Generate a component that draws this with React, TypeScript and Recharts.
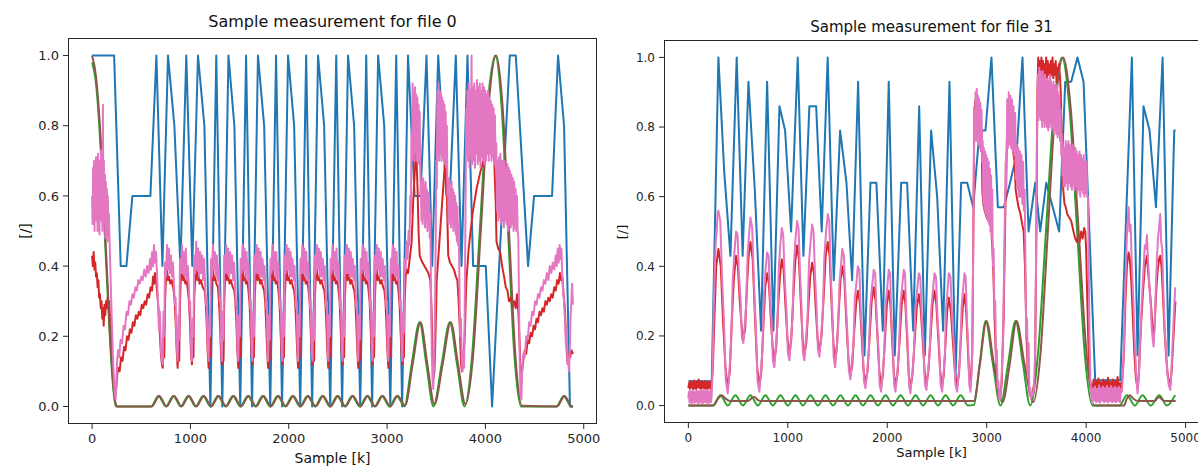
import React from 'react';
import { LineChart, Line, XAxis, YAxis } from 'recharts';

type P = [number, number];

const xTicks = [0, 1000, 2000, 3000, 4000, 5000];
const yTicks = [0, 0.2, 0.4, 0.6, 0.8, 1.0];
const titles = ['Sample measurement for file 0', 'Sample measurement for file 31'];
const xLabel = 'Sample [k]';
const yLabel = '[/]';

// ---------------- file 0 ----------------
const blueL: P[] = [[0,1],[224,1],[291,0.4],[349,0.4],[410,0.6],[593,0.6],[654,1],[715,0.4],[772,1],[837,0.8],[898,0.4],[958,1],[1019,0.4],[1077,1],[1142,0.8],[1203,0],[1263,1],[1324,0],[1387,1],[1447,0.8],[1507,0],[1566,1],[1627,0],[1687,1],[1750,0.8],[1812,0],[1871,1],[1932,0],[1993,1],[2055,0.8],[2117,0],[2177,1],[2238,0],[2298,1],[2360,0.8],[2422,0],[2483,1],[2543,0],[2603,1],[2665,0.8],[2727,0],[2788,1],[2848,0],[2909,1],[2971,0.8],[3033,0],[3093,1],[3153,0],[3213,1],[3280,0.6],[3340,0.6],[3401,1],[3459,0.4],[3520,1],[3604,0.6],[3638,0.6],[3699,1],[3757,0.4],[3818,1],[3875,0.4],[4004,0.4],[4068,0],[4248,1],[4309,1],[4434,0.4],[4495,0.6],[4678,0.6],[4739,1],[4800,0.8],[4860,0],[4890,0]];

const greenL: P[] = [[0,0.98],[40,0.92],[88,0.73],[129,0.49],[180,0.2],[210,0.07],[235,0.008],[250,0],[600,0],[675,0.03],[750,0],[826,0.03],[902,0],[977,0.03],[1053,0],[1129,0.03],[1205,0],[1280,0.03],[1356,0],[1432,0.03],[1508,0],[1584,0.03],[1660,0],[1735,0.03],[1811,0],[1887,0.03],[1963,0],[2038,0.03],[2114,0],[2190,0.03],[2266,0],[2342,0.03],[2418,0],[2493,0.03],[2569,0],[2645,0.03],[2721,0],[2796,0.03],[2872,0],[2948,0.03],[3024,0],[3100,0.03],[3176,0],[3250,0.12],[3330,0.24],[3400,0.12],[3472,0],[3555,0.12],[3638,0.24],[3712,0.12],[3787,0],[3865,0.146],[3943,0.5],[4021,0.854],[4100,1],[4165,0.854],[4230,0.5],[4295,0.146],[4362,0],[4722,0],[4797,0.03],[4872,0],[4890,0]];

const brownL: P[] = [[0,1],[40,0.94],[88,0.76],[129,0.52],[180,0.22],[210,0.08],[238,0.01],[255,0],[608,0],[683,0.03],[758,0],[834,0.03],[910,0],[985,0.03],[1061,0],[1137,0.03],[1213,0],[1288,0.03],[1364,0],[1440,0.03],[1516,0],[1592,0.03],[1668,0],[1743,0.03],[1819,0],[1895,0.03],[1971,0],[2046,0.03],[2122,0],[2198,0.03],[2274,0],[2350,0.03],[2426,0],[2501,0.03],[2577,0],[2653,0.03],[2729,0],[2804,0.03],[2880,0],[2956,0.03],[3032,0],[3108,0.03],[3184,0.003],[3260,0.12],[3340,0.24],[3410,0.12],[3482,0.006],[3565,0.12],[3648,0.24],[3722,0.12],[3797,0.006],[3875,0.146],[3953,0.5],[4031,0.854],[4110,1],[4175,0.854],[4240,0.5],[4305,0.146],[4372,0.002],[4730,0],[4805,0.03],[4880,0],[4890,0]];

const redL: P[] = [[0,0.43],[8,0.4],[16,0.44],[24,0.39],[32,0.41],[40,0.37],[48,0.38],[56,0.34],[64,0.36],[72,0.31],[80,0.32],[88,0.28],[96,0.3],[104,0.25],[112,0.28],[118,0.23],[126,0.29],[134,0.26],[142,0.3],[150,0.28],[158,0.31],[166,0.29],[174,0.3],[190,0.22],[210,0.1],[230,0.03],[245,0.05],[255,0.09],[264,0.11],[280,0.1],[295,0.14],[310,0.13],[325,0.17],[340,0.16],[355,0.2],[370,0.19],[385,0.22],[400,0.21],[415,0.24],[430,0.23],[445,0.26],[460,0.25],[475,0.27],[490,0.26],[505,0.29],[520,0.28],[535,0.3],[550,0.29],[565,0.32],[580,0.31],[595,0.34],[610,0.33],[620,0.37],[630,0.35],[640,0.38],[650,0.36],[660,0.33],[675,0.28],[690,0.2],[700,0.15],[710,0.12],[718,0.11],
[726,0.17],[734,0.14],[742,0.3],[752,0.37],[762,0.39],[772,0.36],[782,0.37],[796,0.35],[810,0.36],[830,0.33],[840,0.3],[850,0.24],[860,0.16],[870,0.11],
[878,0.17],[886,0.13],[894,0.3],[904,0.38],[914,0.39],[924,0.36],[934,0.37],[948,0.35],[962,0.36],[975,0.33],[985,0.3],[995,0.24],[1005,0.16],[1015,0.12],
[1023,0.16],[1031,0.14],[1039,0.31],[1049,0.37],[1059,0.4],[1069,0.36],[1079,0.38],[1093,0.35],[1107,0.36],[1125,0.34],[1145,0.33],[1155,0.3],[1165,0.24],[1175,0.16],[1185,0.11],
[1193,0.17],[1201,0.14],[1209,0.3],[1219,0.37],[1229,0.39],[1239,0.36],[1249,0.37],[1263,0.35],[1280,0.34],[1290,0.3],[1300,0.24],[1310,0.16],[1320,0.12],
[1328,0.17],[1336,0.13],[1344,0.31],[1354,0.38],[1364,0.39],[1374,0.36],[1384,0.37],[1398,0.35],[1412,0.36],[1430,0.34],[1447,0.33],[1457,0.3],[1467,0.24],[1477,0.16],[1487,0.11],
[1495,0.17],[1503,0.14],[1511,0.3],[1521,0.37],[1531,0.39],[1541,0.36],[1551,0.37],[1565,0.35],[1579,0.36],[1590,0.33],[1600,0.3],[1610,0.24],[1620,0.16],[1630,0.12],
[1638,0.16],[1646,0.14],[1654,0.31],[1664,0.37],[1674,0.4],[1684,0.36],[1694,0.38],[1708,0.35],[1722,0.36],[1738,0.34],[1750,0.33],[1760,0.3],[1770,0.24],[1780,0.16],[1790,0.11],
[1798,0.17],[1806,0.13],[1814,0.3],[1824,0.38],[1834,0.39],[1844,0.36],[1854,0.37],[1868,0.35],[1882,0.36],[1895,0.33],[1905,0.3],[1915,0.24],[1925,0.16],[1935,0.12],
[1943,0.17],[1951,0.14],[1959,0.31],[1969,0.37],[1979,0.39],[1989,0.36],[1999,0.37],[2013,0.35],[2027,0.36],[2043,0.34],[2055,0.33],[2065,0.3],[2075,0.24],[2085,0.16],[2095,0.11],
[2103,0.16],[2111,0.14],[2119,0.3],[2129,0.37],[2139,0.4],[2149,0.36],[2159,0.37],[2173,0.35],[2187,0.36],[2202,0.33],[2212,0.3],[2222,0.24],[2232,0.16],[2242,0.12],
[2250,0.17],[2258,0.13],[2266,0.31],[2276,0.38],[2286,0.39],[2296,0.36],[2306,0.37],[2320,0.35],[2334,0.36],[2350,0.34],[2362,0.33],[2372,0.3],[2382,0.24],[2392,0.16],[2402,0.11],
[2410,0.17],[2418,0.14],[2426,0.3],[2436,0.37],[2446,0.39],[2456,0.36],[2466,0.37],[2480,0.35],[2494,0.36],[2507,0.33],[2517,0.3],[2527,0.24],[2537,0.16],[2547,0.12],
[2555,0.16],[2563,0.14],[2571,0.31],[2581,0.37],[2591,0.4],[2601,0.36],[2611,0.38],[2625,0.35],[2639,0.36],[2655,0.34],[2667,0.33],[2677,0.3],[2687,0.24],[2697,0.16],[2707,0.11],
[2715,0.17],[2723,0.13],[2731,0.3],[2741,0.38],[2751,0.39],[2761,0.36],[2771,0.37],[2785,0.35],[2799,0.36],[2812,0.33],[2822,0.3],[2832,0.24],[2842,0.16],[2852,0.12],
[2860,0.17],[2868,0.14],[2876,0.31],[2886,0.37],[2896,0.39],[2906,0.36],[2916,0.37],[2930,0.35],[2944,0.36],[2960,0.34],[2973,0.33],[2983,0.3],[2993,0.24],[3003,0.16],[3013,0.11],
[3021,0.16],[3029,0.14],[3037,0.3],[3047,0.37],[3057,0.4],[3067,0.36],[3077,0.37],[3091,0.35],[3105,0.36],[3115,0.33],[3125,0.3],[3135,0.24],[3145,0.16],[3155,0.12],
[3163,0.17],[3171,0.14],[3179,0.3],[3189,0.37],[3199,0.39],[3213,0.38],[3230,0.42],[3250,0.47],[3265,0.58],[3280,0.66],[3292,0.72],[3300,0.7],[3310,0.62],[3320,0.5],[3332,0.43],[3345,0.42],[3360,0.41],[3380,0.4],[3400,0.39],[3420,0.38],[3440,0.36],[3452,0.28],[3462,0.15],[3472,0.08],[3482,0.1],
[3492,0.2],[3505,0.36],[3520,0.42],[3540,0.5],[3560,0.58],[3580,0.66],[3594,0.71],[3604,0.68],[3612,0.55],[3622,0.43],[3640,0.41],[3660,0.4],[3680,0.39],[3700,0.37],[3715,0.36],[3728,0.3],[3740,0.22],[3752,0.12],[3762,0.1],[3775,0.13],[3790,0.2],
[3805,0.35],[3830,0.45],[3870,0.55],[3910,0.62],[3950,0.67],[3990,0.71],[4020,0.74],[4045,0.76],[4070,0.74],[4090,0.7],[4105,0.58],[4113,0.47],[4130,0.45],[4150,0.44],[4170,0.4],[4190,0.37],[4207,0.34],[4225,0.33],[4240,0.3],[4258,0.31],[4275,0.28],[4292,0.3],[4309,0.28],[4322,0.32],[4335,0.27],[4348,0.18],[4360,0.08],[4372,0.1],
[4385,0.13],[4400,0.16],[4415,0.15],[4430,0.19],[4445,0.18],[4460,0.21],[4475,0.2],[4490,0.23],[4505,0.22],[4520,0.25],[4535,0.24],[4550,0.27],[4565,0.26],[4580,0.28],[4595,0.27],[4610,0.3],[4625,0.29],[4640,0.31],[4655,0.3],[4670,0.32],[4685,0.31],[4700,0.34],[4715,0.33],[4730,0.36],[4745,0.35],[4758,0.38],[4770,0.36],[4782,0.37],[4795,0.32],[4808,0.28],[4820,0.2],[4832,0.13],[4842,0.12],[4852,0.15],[4862,0.14],[4875,0.16],[4890,0.15]];

const pinkL: P[] = [[0,0.6],[5,0.52],[10,0.68],[15,0.55],[20,0.7],[25,0.5],[30,0.66],[35,0.54],[40,0.71],[45,0.53],[50,0.69],[55,0.5],[60,0.72],[65,0.55],[70,0.67],[75,0.49],[80,0.7],[85,0.53],[90,0.73],[95,0.56],[100,0.68],[105,0.5],[110,0.86],[115,0.52],[120,0.7],[125,0.55],[130,0.66],[135,0.48],[140,0.64],[145,0.52],[150,0.62],[155,0.47],[160,0.6],[165,0.5],[170,0.55],[185,0.4],[200,0.25],[215,0.12],[230,0.04],[240,0.02],[248,0.08],[255,0.13],[264,0.16],[275,0.14],[290,0.19],[305,0.18],[320,0.23],[335,0.22],[350,0.27],[365,0.26],[380,0.3],[395,0.29],[410,0.32],[425,0.31],[440,0.34],[455,0.33],[470,0.36],[485,0.35],[500,0.37],[515,0.36],[530,0.39],[545,0.37],[560,0.4],[575,0.38],[590,0.42],[600,0.39],[610,0.44],[620,0.4],[630,0.46],[640,0.41],[650,0.44],[660,0.38],[670,0.3],[680,0.22],[690,0.27],[700,0.16],[710,0.13],[718,0.12],
[726,0.27],[734,0.2],[742,0.41],[752,0.37],[762,0.46],[772,0.39],[782,0.45],[792,0.38],[802,0.43],[812,0.37],[822,0.41],[832,0.35],[842,0.29],[850,0.31],[856,0.2],[864,0.16],[870,0.13],
[878,0.26],[886,0.19],[894,0.42],[904,0.38],[914,0.46],[924,0.38],[934,0.44],[944,0.37],[954,0.45],[964,0.36],[974,0.4],[984,0.34],[992,0.28],[998,0.3],[1004,0.19],[1010,0.15],[1015,0.13],
[1023,0.25],[1031,0.2],[1039,0.43],[1049,0.38],[1059,0.47],[1069,0.39],[1079,0.45],[1089,0.37],[1099,0.44],[1109,0.38],[1119,0.43],[1129,0.36],[1139,0.42],[1149,0.35],[1157,0.29],[1165,0.31],[1172,0.2],[1179,0.16],[1185,0.13],
[1193,0.26],[1201,0.2],[1209,0.42],[1219,0.37],[1229,0.46],[1239,0.39],[1249,0.44],[1259,0.37],[1269,0.43],[1279,0.36],[1289,0.4],[1297,0.3],[1304,0.31],[1310,0.2],[1315,0.16],[1320,0.13],
[1328,0.27],[1336,0.19],[1344,0.43],[1354,0.38],[1364,0.46],[1374,0.38],[1384,0.45],[1394,0.37],[1404,0.44],[1414,0.38],[1424,0.43],[1434,0.36],[1444,0.41],[1454,0.35],[1462,0.29],[1469,0.3],[1475,0.2],[1481,0.16],[1487,0.13],
[1495,0.26],[1503,0.2],[1511,0.42],[1521,0.38],[1531,0.46],[1541,0.39],[1551,0.45],[1561,0.37],[1571,0.44],[1581,0.36],[1591,0.41],[1600,0.34],[1608,0.28],[1614,0.3],[1620,0.19],[1625,0.15],[1630,0.13],
[1638,0.27],[1646,0.2],[1654,0.43],[1664,0.38],[1674,0.46],[1684,0.38],[1694,0.45],[1704,0.37],[1714,0.44],[1724,0.37],[1734,0.42],[1744,0.36],[1754,0.4],[1763,0.33],[1770,0.28],[1776,0.3],[1782,0.19],[1786,0.15],[1790,0.13],
[1798,0.26],[1806,0.19],[1814,0.42],[1824,0.38],[1834,0.46],[1844,0.39],[1854,0.44],[1864,0.37],[1874,0.44],[1884,0.36],[1894,0.41],[1904,0.34],[1912,0.28],[1918,0.3],[1924,0.2],[1930,0.15],[1935,0.13],
[1943,0.27],[1951,0.2],[1959,0.43],[1969,0.38],[1979,0.46],[1989,0.39],[1999,0.45],[2009,0.37],[2019,0.44],[2029,0.37],[2039,0.42],[2049,0.36],[2059,0.4],[2068,0.33],[2075,0.28],[2081,0.3],[2087,0.19],[2091,0.15],[2095,0.13],
[2103,0.26],[2111,0.2],[2119,0.42],[2129,0.38],[2139,0.46],[2149,0.38],[2159,0.45],[2169,0.37],[2179,0.44],[2189,0.36],[2199,0.41],[2209,0.34],[2217,0.28],[2224,0.3],[2230,0.19],[2236,0.15],[2242,0.13],
[2250,0.27],[2258,0.19],[2266,0.43],[2276,0.38],[2286,0.46],[2296,0.39],[2306,0.45],[2316,0.37],[2326,0.44],[2336,0.37],[2346,0.42],[2356,0.36],[2366,0.4],[2375,0.33],[2382,0.28],[2388,0.3],[2394,0.19],[2398,0.15],[2402,0.13],
[2410,0.26],[2418,0.2],[2426,0.42],[2436,0.38],[2446,0.46],[2456,0.39],[2466,0.44],[2476,0.37],[2486,0.45],[2496,0.36],[2506,0.41],[2516,0.34],[2524,0.28],[2530,0.3],[2536,0.2],[2542,0.15],[2547,0.13],
[2555,0.27],[2563,0.2],[2571,0.43],[2581,0.38],[2591,0.46],[2601,0.38],[2611,0.45],[2621,0.37],[2631,0.44],[2641,0.37],[2651,0.42],[2661,0.36],[2671,0.4],[2680,0.33],[2687,0.28],[2693,0.3],[2699,0.19],[2703,0.15],[2707,0.13],
[2715,0.26],[2723,0.19],[2731,0.42],[2741,0.38],[2751,0.46],[2761,0.39],[2771,0.45],[2781,0.37],[2791,0.44],[2801,0.36],[2811,0.41],[2821,0.34],[2829,0.28],[2835,0.3],[2841,0.2],[2847,0.15],[2852,0.13],
[2860,0.27],[2868,0.2],[2876,0.43],[2886,0.38],[2896,0.46],[2906,0.39],[2916,0.45],[2926,0.37],[2936,0.44],[2946,0.37],[2956,0.42],[2966,0.36],[2976,0.4],[2985,0.33],[2992,0.28],[2998,0.3],[3004,0.19],[3009,0.15],[3013,0.13],
[3021,0.26],[3029,0.2],[3037,0.42],[3047,0.38],[3057,0.46],[3067,0.38],[3077,0.45],[3087,0.37],[3097,0.44],[3107,0.36],[3117,0.4],[3126,0.33],[3134,0.28],[3140,0.3],[3146,0.19],[3151,0.15],[3155,0.13],
[3163,0.27],[3171,0.21],[3179,0.42],[3189,0.39],[3199,0.47],[3209,0.42],[3219,0.5],[3228,0.46],[3236,0.6],[3242,0.55],[3248,0.78],[3254,0.7],[3260,0.92],[3266,0.72],[3272,0.9],[3278,0.7],[3284,0.91],[3290,0.73],[3296,0.89],[3302,0.7],[3308,0.88],[3314,0.71],[3320,0.86],[3326,0.69],[3332,0.84],[3338,0.66],[3344,0.62],[3350,0.53],[3356,0.64],[3362,0.52],[3368,0.65],[3374,0.54],[3380,0.63],[3386,0.51],[3392,0.64],[3398,0.53],[3404,0.62],[3410,0.5],[3416,0.61],[3422,0.52],[3428,0.6],[3434,0.48],[3440,0.55],[3448,0.3],[3455,0.15],[3462,0.08],[3470,0.05],[3478,0.12],
[3486,0.25],[3494,0.45],[3500,0.7],[3506,0.62],[3512,0.9],[3518,0.72],[3524,0.92],[3530,0.7],[3536,0.9],[3542,0.72],[3548,0.89],[3554,0.7],[3560,0.88],[3566,0.71],[3572,0.87],[3578,0.7],[3584,0.86],[3590,0.69],[3596,0.84],[3602,0.68],[3608,0.8],[3614,0.6],[3620,0.64],[3626,0.52],[3632,0.65],[3638,0.53],[3644,0.63],[3650,0.51],[3656,0.64],[3662,0.52],[3668,0.62],[3674,0.5],[3680,0.61],[3686,0.51],[3692,0.6],[3698,0.49],[3704,0.58],[3710,0.47],[3716,0.57],[3722,0.46],[3728,0.52],[3736,0.35],[3744,0.2],[3752,0.25],[3760,0.12],[3768,0.1],[3776,0.16],[3784,0.11],[3792,0.35],[3800,0.65],[3806,0.85],
[3810,0.72],[3817,0.9],[3824,0.7],[3831,0.92],[3838,0.68],[3845,0.9],[3852,0.71],[3859,1.0],[3866,0.69],[3873,0.91],[3880,0.7],[3887,0.92],[3894,0.68],[3901,0.9],[3908,0.72],[3915,0.93],[3922,0.69],[3929,0.91],[3936,0.7],[3943,0.92],[3950,0.68],[3957,0.9],[3964,0.71],[3971,0.92],[3978,0.7],[3985,0.91],[3992,0.69],[3999,0.9],[4006,0.7],[4013,0.89],[4020,0.72],[4027,0.9],[4034,0.7],[4041,0.88],[4048,0.72],[4055,0.87],[4062,0.7],[4069,0.86],[4076,0.71],[4083,0.85],[4090,0.69],[4097,0.83],[4104,0.68],[4111,0.75],
[4118,0.56],[4125,0.7],[4132,0.53],[4139,0.71],[4146,0.54],[4153,0.72],[4160,0.52],[4167,0.7],[4174,0.53],[4181,0.69],[4188,0.51],[4195,0.7],[4202,0.53],[4209,0.68],[4216,0.52],[4223,0.69],[4230,0.5],[4237,0.68],[4244,0.52],[4251,0.67],[4258,0.51],[4265,0.66],[4272,0.52],[4279,0.65],[4286,0.5],[4293,0.64],[4300,0.51],[4307,0.62],[4314,0.5],[4321,0.6],[4328,0.5],[4335,0.48],[4342,0.3],[4350,0.12],[4358,0.03],[4366,0.02],
[4374,0.1],[4385,0.15],[4400,0.14],[4415,0.2],[4430,0.19],[4445,0.24],[4460,0.23],[4475,0.27],[4490,0.26],[4505,0.3],[4520,0.29],[4535,0.32],[4550,0.31],[4565,0.34],[4580,0.33],[4595,0.36],[4610,0.35],[4625,0.38],[4640,0.36],[4655,0.4],[4670,0.38],[4685,0.41],[4700,0.39],[4715,0.43],[4725,0.4],[4735,0.45],[4745,0.41],[4755,0.46],[4765,0.42],[4773,0.45],[4781,0.38],[4790,0.33],[4800,0.3],[4810,0.24],[4818,0.18],[4826,0.22],[4834,0.12],[4842,0.14],[4850,0.1],[4858,0.16],[4866,0.25],[4874,0.3],[4882,0.35],[4890,0.29]];

// ---------------- file 31 ----------------
const blueR: P[] = [[0,0.07],[235,0.07],[302,1],[361,0.67],[423,0.43],[486,1],[546,0.43],[604,0.93],[668,0.62],[731,0.215],[792,0.93],[855,0.215],[916,0.86],[973,0.79],[1033,0.5],[1100,1],[1157,0.43],[1217,0.86],[1285,0.86],[1341,0.5],[1401,1],[1462,0.36],[1526,0.79],[1590,0.64],[1647,0.36],[1707,0.93],[1771,0.144],[1831,0.64],[1891,0.64],[1955,0.215],[2015,0.93],[2076,0.144],[2140,0.64],[2200,0.64],[2261,0.215],[2321,0.86],[2378,0.144],[2441,0.79],[2502,0.6],[2562,0.215],[2626,0.93],[2686,0.073],[2743,0.64],[2804,0.64],[2864,0.57],[2928,0.79],[2988,0.79],[3048,1],[3112,0.57],[3172,0.57],[3235,0.64],[3300,0.72],[3360,1],[3421,0.5],[3488,0.64],[3538,0.5],[3599,0.64],[3729,0.5],[3790,0.93],[3850,0.93],[3913,1],[3974,0.93],[4091,0.073],[4343,0.073],[4460,1],[4517,0.144],[4577,0.86],[4638,0.79],[4702,0.57],[4769,1],[4829,0.144],[4886,0.79],[4900,0.79]];

const greenR: P[] = [[0,0],[245,0],[322,0.03],[397,0],[473,0.03],[548,0],[624,0.03],[699,0],[775,0.03],[850,0],[926,0.03],[1001,0],[1077,0.03],[1152,0],[1228,0.03],[1303,0],[1379,0.03],[1454,0],[1530,0.03],[1605,0],[1681,0.03],[1756,0],[1832,0.03],[1907,0],[1983,0.03],[2058,0],[2134,0.03],[2209,0],[2285,0.03],[2360,0],[2436,0.03],[2511,0],[2587,0.03],[2662,0],[2738,0.03],[2813,0],[2871,0.002],[2930,0.12],[2990,0.243],[3062,0.12],[3139,0],[3215,0.12],[3290,0.243],[3365,0.12],[3437,0],[3515,0.146],[3596,0.5],[3676,0.854],[3756,1],[3833,0.854],[3910,0.5],[3987,0.146],[4064,0],[4335,0],[4410,0.03],[4490,0],[4567,0.03],[4650,0],[4735,0.03],[4812,0],[4895,0.03]];

const brownR: P[] = [[0,0],[250,0],[300,0.02],[335,0.03],[370,0.021],[420,0.013],[600,0.013],[640,0.022],[665,0.025],[700,0.016],[740,0.013],[2871,0.013],[2932,0.12],[2998,0.243],[3072,0.12],[3160,0.01],[3232,0.12],[3300,0.243],[3380,0.12],[3470,0.01],[3540,0.146],[3615,0.5],[3690,0.854],[3768,1],[3845,0.854],[3925,0.5],[4005,0.146],[4085,0],[4380,0],[4410,0.02],[4440,0.03],[4470,0.021],[4520,0.013],[4690,0.013],[4730,0.025],[4770,0.016],[4800,0.013],[4900,0.013]];

const redR: P[] = [[0,0.05],[8,0.065],[16,0.048],[24,0.07],[32,0.052],[40,0.068],[48,0.045],[56,0.072],[64,0.05],[72,0.066],[80,0.047],[88,0.07],[96,0.053],[104,0.075],[112,0.05],[120,0.067],[128,0.046],[136,0.07],[144,0.052],[152,0.068],[160,0.048],[168,0.071],[176,0.05],[184,0.066],[192,0.047],[200,0.07],[208,0.051],[216,0.067],[224,0.048],[232,0.06],[245,0.1],[262,0.25],[280,0.4],[302,0.45],
[326,0.4],[349,0.24],[373,0.11],[396,0.05],[417,0.1],[438,0.25],[459,0.37],[480,0.43],[498,0.4],[517,0.3],[535,0.23],[553,0.19],[571,0.22],[589,0.34],[606,0.43],[624,0.47],[647,0.42],[669,0.26],[692,0.11],[714,0.055],[734,0.1],[753,0.22],[773,0.34],[792,0.38],[810,0.35],[829,0.25],[847,0.17],[865,0.13],[884,0.17],[902,0.28],[921,0.37],[939,0.42],[958,0.39],[978,0.28],[997,0.19],[1016,0.145],[1035,0.19],[1055,0.31],[1074,0.41],[1093,0.46],[1112,0.42],[1130,0.3],[1149,0.19],[1167,0.145],[1186,0.18],[1206,0.28],[1225,0.37],[1244,0.41],[1263,0.38],[1281,0.28],[1300,0.19],[1318,0.155],[1339,0.2],[1360,0.31],[1381,0.43],[1402,0.47],[1421,0.43],[1439,0.3],[1458,0.18],[1476,0.13],[1494,0.17],[1512,0.27],[1530,0.36],[1548,0.4],[1569,0.36],[1589,0.24],[1610,0.13],[1630,0.085],[1649,0.12],[1667,0.21],[1686,0.29],[1704,0.33],[1723,0.3],[1743,0.2],[1762,0.1],[1781,0.065],[1802,0.1],[1823,0.2],[1843,0.3],[1864,0.34],[1883,0.3],[1901,0.2],[1920,0.1],[1938,0.055],[1957,0.09],[1977,0.19],[1996,0.29],[2015,0.33],[2032,0.29],[2049,0.19],[2066,0.095],[2083,0.055],[2104,0.095],[2125,0.19],[2145,0.29],[2166,0.33],[2183,0.29],[2200,0.19],[2216,0.09],[2233,0.05],[2254,0.09],[2275,0.185],[2296,0.28],[2317,0.32],[2336,0.28],[2356,0.19],[2375,0.1],[2394,0.06],[2414,0.1],[2435,0.195],[2455,0.29],[2475,0.33],[2494,0.29],[2514,0.19],[2533,0.095],[2552,0.055],[2569,0.09],[2586,0.18],[2602,0.27],[2619,0.31],[2640,0.27],[2661,0.18],[2682,0.09],[2703,0.055],[2722,0.094],[2740,0.19],[2759,0.28],[2777,0.32],[2792,0.28],[2807,0.19],[2822,0.094],[2837,0.055],
[2855,0.15],[2866,0.5],[2876,0.85],[2888,0.88],[2900,0.85],[2915,0.82],[2935,0.8],[2950,0.79],[2956,0.62],[2965,0.58],[2980,0.56],[3000,0.54],[3020,0.53],[3038,0.52],[3050,0.5],[3065,0.4],[3080,0.25],[3095,0.12],[3110,0.05],[3125,0.03],[3140,0.04],[3150,0.06],[3170,0.25],[3190,0.6],[3205,0.78],[3223,0.85],[3240,0.8],[3260,0.74],[3281,0.7],[3292,0.62],[3302,0.6],[3320,0.57],[3340,0.55],[3358,0.52],[3372,0.5],[3385,0.4],[3400,0.2],[3415,0.08],[3430,0.04],[3445,0.03],[3465,0.04],[3485,0.08],
[3500,0.5],[3510,0.9],[3518,1.0],[3526,0.95],[3534,0.99],[3542,0.94],[3550,1.0],[3558,0.96],[3566,0.99],[3574,0.93],[3582,0.98],[3590,0.95],[3598,1.0],[3606,0.94],[3614,0.99],[3622,0.95],[3630,0.98],[3638,0.93],[3646,0.99],[3654,0.95],[3662,1.0],[3670,0.94],[3678,0.98],[3686,0.95],[3694,0.99],[3702,0.93],[3710,0.97],[3718,0.94],[3726,0.98],[3736,0.95],[3745,0.9],[3752,0.8],[3760,0.7],[3770,0.62],[3782,0.58],[3795,0.57],[3810,0.55],[3830,0.54],[3850,0.53],[3873,0.5],[3890,0.48],[3907,0.47],[3920,0.49],[3935,0.47],[3950,0.5],[3965,0.48],[3980,0.51],[3991,0.5],[4000,0.45],[4012,0.3],[4025,0.15],[4040,0.07],
[4052,0.06],[4064,0.045],[4076,0.075],[4088,0.05],[4100,0.07],[4112,0.045],[4124,0.078],[4136,0.05],[4148,0.068],[4160,0.042],[4172,0.075],[4184,0.05],[4196,0.07],[4208,0.046],[4220,0.08],[4232,0.05],[4244,0.068],[4256,0.044],[4268,0.075],[4280,0.05],[4292,0.07],[4304,0.046],[4316,0.082],[4328,0.05],[4340,0.065],[4352,0.05],[4364,0.08],
[4380,0.15],[4395,0.3],[4410,0.4],[4427,0.44],[4440,0.42],[4455,0.35],[4470,0.25],[4485,0.15],[4500,0.08],[4517,0.05],[4532,0.1],[4550,0.22],[4570,0.32],[4590,0.4],[4611,0.43],[4625,0.38],[4640,0.33],[4655,0.28],[4668,0.22],[4678,0.19],[4690,0.24],[4705,0.33],[4720,0.39],[4733,0.42],[4745,0.43],[4758,0.4],[4772,0.32],[4788,0.22],[4805,0.14],[4820,0.09],[4835,0.065],[4846,0.06],[4860,0.1],[4875,0.18],[4888,0.25],[4898,0.3]];

const pinkR: P[] = [[0,0.02],[6,0.04],[12,0.008],[18,0.042],[24,0.012],[30,0.038],[36,0.005],[42,0.045],[48,0.015],[54,0.04],[60,0.008],[66,0.036],[72,0.01],[78,0.044],[84,0.012],[90,0.04],[96,0.006],[102,0.042],[108,0.014],[114,0.038],[120,0.008],[126,0.045],[132,0.012],[138,0.04],[144,0.006],[150,0.043],[156,0.01],[162,0.039],[168,0.012],[174,0.044],[180,0.008],[186,0.04],[192,0.012],[198,0.042],[204,0.006],[210,0.038],[216,0.012],[222,0.045],[228,0.01],[235,0.03],[245,0.12],[255,0.28],[265,0.38],[275,0.47],[285,0.5],[293,0.55],[302,0.56],
[321,0.53],[340,0.36],[358,0.24],[377,0.07],[396,0.035],[413,0.1],[430,0.18],[446,0.36],[463,0.44],[480,0.5],[495,0.49],[509,0.375],[524,0.31],[538,0.195],[553,0.18],[567,0.23],[581,0.29],[596,0.44],[610,0.49],[624,0.54],[642,0.51],[660,0.35],[678,0.23],[696,0.07],[714,0.04],[730,0.1],[745,0.16],[761,0.32],[776,0.39],[792,0.44],[807,0.43],[821,0.31],[836,0.24],[850,0.13],[865,0.11],[880,0.17],[895,0.23],[909,0.39],[924,0.46],[939,0.51],[954,0.49],[970,0.36],[985,0.28],[1001,0.15],[1016,0.13],[1031,0.19],[1047,0.25],[1062,0.41],[1078,0.48],[1093,0.53],[1108,0.51],[1123,0.38],[1137,0.29],[1152,0.15],[1167,0.13],[1182,0.19],[1198,0.25],[1213,0.41],[1229,0.47],[1244,0.52],[1259,0.5],[1274,0.37],[1288,0.29],[1303,0.16],[1318,0.14],[1335,0.2],[1352,0.27],[1368,0.43],[1385,0.5],[1402,0.55],[1417,0.53],[1432,0.38],[1446,0.28],[1461,0.14],[1476,0.11],[1490,0.16],[1505,0.21],[1519,0.35],[1534,0.4],[1548,0.45],[1564,0.43],[1581,0.31],[1597,0.22],[1614,0.1],[1630,0.075],[1645,0.13],[1660,0.17],[1674,0.31],[1689,0.35],[1704,0.4],[1719,0.39],[1735,0.26],[1750,0.19],[1766,0.07],[1781,0.05],[1798,0.1],[1814,0.15],[1831,0.29],[1847,0.34],[1864,0.39],[1879,0.38],[1894,0.25],[1908,0.18],[1923,0.06],[1938,0.04],[1953,0.09],[1969,0.15],[1984,0.29],[2000,0.34],[2015,0.39],[2029,0.38],[2042,0.25],[2056,0.18],[2069,0.06],[2083,0.04],[2100,0.09],[2116,0.15],[2133,0.29],[2149,0.34],[2166,0.39],[2179,0.38],[2193,0.25],[2206,0.18],[2220,0.055],[2233,0.035],[2250,0.09],[2267,0.14],[2283,0.28],[2300,0.33],[2317,0.38],[2332,0.37],[2348,0.25],[2363,0.18],[2379,0.06],[2394,0.045],[2410,0.1],[2426,0.15],[2443,0.28],[2459,0.33],[2475,0.38],[2490,0.37],[2506,0.25],[2521,0.18],[2537,0.06],[2552,0.04],[2565,0.09],[2579,0.14],[2592,0.28],[2606,0.33],[2619,0.38],[2636,0.37],[2653,0.25],[2669,0.18],[2686,0.06],[2703,0.04],[2718,0.09],[2733,0.14],[2747,0.28],[2762,0.33],[2777,0.38],[2789,0.37],[2801,0.25],[2813,0.18],[2825,0.06],[2837,0.04],
[2850,0.1],[2860,0.3],[2868,0.6],[2876,0.85],[2882,0.77],[2888,0.9],[2894,0.76],[2900,0.91],[2906,0.77],[2912,0.89],[2918,0.75],[2924,0.88],[2930,0.74],[2936,0.87],[2942,0.73],[2948,0.85],[2954,0.7],[2960,0.76],[2966,0.58],[2972,0.74],[2978,0.56],[2984,0.73],[2990,0.55],[2996,0.72],[3002,0.54],[3008,0.71],[3014,0.53],[3020,0.7],[3026,0.52],[3032,0.68],[3038,0.5],[3044,0.66],[3050,0.48],[3056,0.62],[3062,0.4],[3070,0.45],[3078,0.25],[3086,0.3],[3094,0.12],[3102,0.16],[3110,0.05],[3118,0.07],[3126,0.02],[3134,0.04],[3142,0.02],[3150,0.08],
[3165,0.2],[3178,0.45],[3190,0.7],[3198,0.62],[3206,0.88],[3214,0.74],[3222,0.9],[3230,0.75],[3238,0.89],[3246,0.74],[3254,0.88],[3262,0.73],[3270,0.86],[3278,0.72],[3286,0.84],[3294,0.65],[3302,0.75],[3310,0.62],[3318,0.74],[3326,0.6],[3334,0.73],[3342,0.6],[3350,0.72],[3358,0.58],[3366,0.7],[3374,0.56],[3382,0.62],[3390,0.4],[3398,0.2],[3406,0.25],[3414,0.08],[3422,0.18],[3430,0.03],[3438,0.05],[3446,0.02],[3456,0.04],[3466,0.03],[3476,0.05],[3486,0.15],
[3496,0.4],[3504,0.75],[3510,0.85],[3516,0.95],[3522,0.82],[3528,0.97],[3534,0.83],[3540,0.96],[3546,0.82],[3552,0.95],[3558,0.8],[3564,0.96],[3570,0.82],[3576,0.94],[3582,0.8],[3588,0.95],[3594,0.81],[3600,0.93],[3606,0.8],[3612,0.94],[3618,0.79],[3624,0.93],[3630,0.8],[3636,0.95],[3642,0.81],[3648,0.93],[3654,0.79],[3660,0.92],[3666,0.8],[3672,0.93],[3678,0.78],[3684,0.92],[3690,0.79],[3696,0.91],[3702,0.78],[3708,0.92],[3714,0.77],[3720,0.9],[3726,0.78],[3732,0.89],[3738,0.76],[3744,0.85],[3750,0.72],[3756,0.78],[3762,0.66],[3768,0.72],[3774,0.63],
[3780,0.74],[3787,0.63],[3794,0.76],[3801,0.64],[3808,0.75],[3815,0.62],[3822,0.76],[3829,0.64],[3836,0.75],[3843,0.63],[3850,0.74],[3857,0.62],[3864,0.75],[3871,0.64],[3878,0.73],[3885,0.62],[3892,0.74],[3899,0.63],[3906,0.73],[3913,0.61],[3920,0.72],[3927,0.62],[3934,0.73],[3941,0.6],[3948,0.72],[3955,0.62],[3962,0.71],[3969,0.61],[3976,0.72],[3983,0.6],[3990,0.7],[3997,0.61],[4004,0.7],[4011,0.6],[4018,0.6],[4026,0.4],[4034,0.2],[4042,0.08],[4050,0.04],
[4060,0.01],[4070,0.05],[4080,0.015],[4090,0.055],[4100,0.01],[4110,0.048],[4120,0.012],[4130,0.058],[4140,0.008],[4150,0.05],[4160,0.014],[4170,0.055],[4180,0.01],[4190,0.05],[4200,0.012],[4210,0.057],[4220,0.009],[4230,0.05],[4240,0.013],[4250,0.056],[4260,0.01],[4270,0.05],[4280,0.012],[4290,0.055],[4300,0.01],[4310,0.05],[4320,0.013],[4330,0.054],[4340,0.01],[4350,0.045],[4360,0.04],
[4375,0.12],[4390,0.3],[4405,0.45],[4415,0.52],[4427,0.57],[4437,0.5],[4447,0.52],[4460,0.4],[4475,0.3],[4490,0.18],[4505,0.08],[4517,0.035],[4530,0.08],[4545,0.2],[4560,0.3],[4575,0.38],[4590,0.46],[4600,0.45],[4611,0.49],[4622,0.42],[4635,0.35],[4648,0.3],[4660,0.22],[4670,0.19],[4678,0.17],[4688,0.22],[4700,0.33],[4712,0.42],[4722,0.48],[4733,0.51],[4745,0.55],[4755,0.47],[4765,0.45],[4777,0.33],[4790,0.22],[4803,0.16],[4815,0.1],[4830,0.06],[4846,0.045],[4858,0.1],[4870,0.18],[4882,0.26],[4896,0.34]];

const C = { blue: '#1f77b4', green: '#2ca02c', red: '#d62728', brown: '#8c564b', pink: '#e377c2' };
const FONT = '"DejaVu Sans", sans-serif';
const INK = '#262626';

const rows = (pts: P[]) => pts.map(([x, y]) => ({ x, y }));

type Series = { pts: P[]; color: string; curve: 'linear' | 'monotone' };

type PanelProps = {
  left: number;
  width: number;
  plotLeft: number;
  plotTop: number;
  plotW: number;
  plotH: number;
  yAxisW: number;
  tickFont: number;
  titleFont: number;
  labelFont: number;
  title: string;
  titleTop: number;
  xLabelTop: number;
  yLabelX: number;
  series: Series[];
};

function Panel(p: PanelProps) {
  const xAxisH = 30;
  const margin = {
    top: p.plotTop,
    left: p.plotLeft - p.yAxisW,
    right: p.width - p.plotLeft - p.plotW,
    bottom: 466 - p.plotTop - p.plotH - xAxisH,
  };
  const cx = p.plotLeft + p.plotW / 2;
  return (
    <div style={{ position: 'absolute', left: p.left, top: 0, width: p.width, height: 466 }}>
      <LineChart width={p.width} height={466} margin={margin}>
        <XAxis
          dataKey="x"
          type="number"
          domain={[-245, 5135]}
          allowDataOverflow
          ticks={xTicks}
          height={xAxisH}
          axisLine={false}
          tickLine={{ stroke: INK }}
          tickSize={5}
          tickMargin={5}
          tick={{ fontSize: p.tickFont, fill: INK, fontFamily: FONT }}
        />
        <YAxis
          type="number"
          domain={[-0.05, 1.05]}
          allowDataOverflow
          ticks={yTicks}
          width={p.yAxisW}
          axisLine={false}
          tickLine={{ stroke: INK }}
          tickSize={5}
          tickMargin={4}
          tickFormatter={(v: number) => v.toFixed(1)}
          tick={{ fontSize: p.tickFont, fill: INK, fontFamily: FONT }}
        />
        {p.series.map((s, i) => (
          <Line
            key={i}
            data={rows(s.pts)}
            dataKey="y"
            type={s.curve}
            stroke={s.color}
            strokeWidth={2}
            strokeLinejoin="round"
            dot={false}
            activeDot={false}
            isAnimationActive={false}
          />
        ))}
      </LineChart>
      <div
        style={{
          position: 'absolute',
          left: p.plotLeft,
          top: p.plotTop,
          width: p.plotW,
          height: p.plotH,
          border: `1px solid ${INK}`,
          boxSizing: 'border-box',
          pointerEvents: 'none',
        }}
      />
      <div
        style={{
          position: 'absolute',
          left: cx - 250,
          width: 500,
          top: p.titleTop,
          textAlign: 'center',
          fontFamily: FONT,
          fontSize: p.titleFont,
          color: '#111',
          whiteSpace: 'nowrap',
        }}
      >
        {p.title}
      </div>
      <div
        style={{
          position: 'absolute',
          left: cx - 100,
          width: 200,
          top: p.xLabelTop,
          textAlign: 'center',
          fontFamily: FONT,
          fontSize: p.labelFont,
          color: '#111',
          whiteSpace: 'nowrap',
        }}
      >
        {xLabel}
      </div>
      <div
        style={{
          position: 'absolute',
          left: p.yLabelX - 50,
          width: 100,
          top: p.plotTop + p.plotH / 2 - 10,
          height: 20,
          lineHeight: '20px',
          textAlign: 'center',
          transform: 'rotate(-90deg)',
          fontFamily: FONT,
          fontSize: p.labelFont,
          color: '#111',
        }}
      >
        {yLabel}
      </div>
    </div>
  );
}

export default function App() {
  const leftSeries: Series[] = [
    { pts: blueL, color: C.blue, curve: 'linear' },
    { pts: greenL, color: C.green, curve: 'monotone' },
    { pts: redL, color: C.red, curve: 'linear' },
    { pts: brownL, color: C.brown, curve: 'monotone' },
    { pts: pinkL, color: C.pink, curve: 'linear' },
  ];
  const rightSeries: Series[] = [
    { pts: blueR, color: C.blue, curve: 'linear' },
    { pts: greenR, color: C.green, curve: 'monotone' },
    { pts: redR, color: C.red, curve: 'linear' },
    { pts: brownR, color: C.brown, curve: 'monotone' },
    { pts: pinkR, color: C.pink, curve: 'linear' },
  ];
  return (
    <div
      style={{
        position: 'absolute',
        left: 0,
        top: 0,
        width: 1198,
        height: 466,
        overflow: 'hidden',
        background: '#fff',
      }}
    >
      <Panel
        left={0}
        width={600}
        plotLeft={68}
        plotTop={38}
        plotW={529}
        plotH={386}
        yAxisW={60}
        tickFont={13}
        titleFont={16}
        labelFont={14}
        title={titles[0]}
        titleTop={12}
        xLabelTop={450}
        yLabelX={25}
        series={leftSeries}
      />
      <Panel
        left={600}
        width={600}
        plotLeft={64}
        plotTop={40}
        plotW={535}
        plotH={383}
        yAxisW={56}
        tickFont={12}
        titleFont={15}
        labelFont={13}
        title={titles[1]}
        titleTop={18}
        xLabelTop={445}
        yLabelX={23}
        series={rightSeries}
      />
    </div>
  );
}
